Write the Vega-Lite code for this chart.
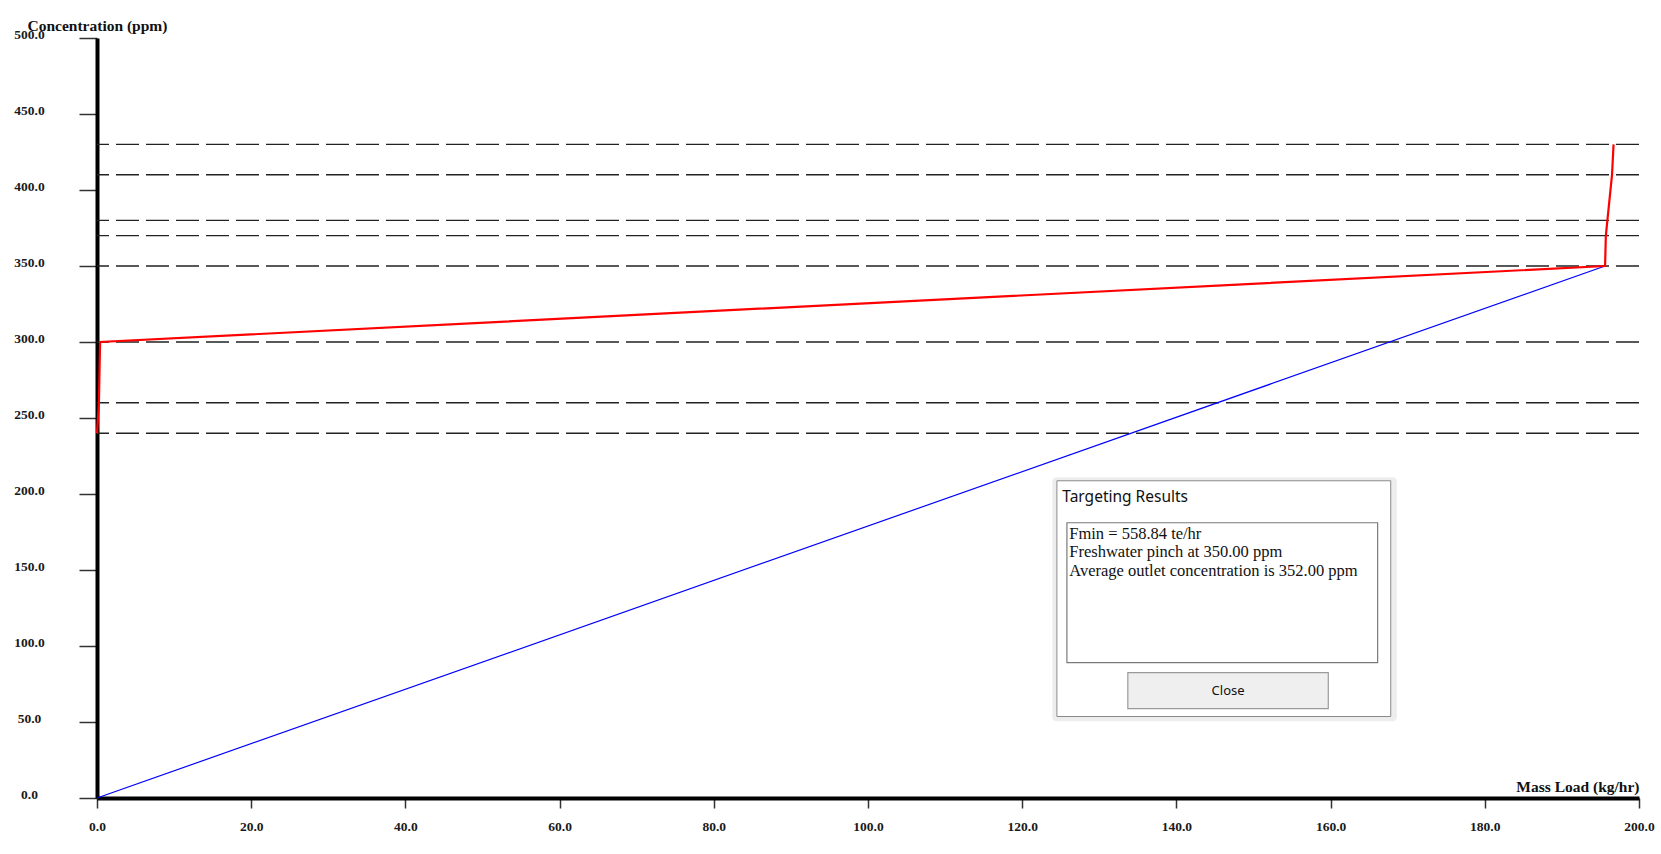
{
  "$schema": "https://vega.github.io/schema/vega-lite/v6.json",
  "width": 1542,
  "height": 760,
  "autosize": "none",
  "padding": {"left": 97, "top": 38, "right": 22, "bottom": 56},
  "background": "white",
  "config": {
    "view": {"stroke": null},
    "axis": {
      "grid": false,
      "domainColor": "black",
      "domainWidth": 4,
      "tickColor": "#333333",
      "tickWidth": 1.5,
      "labelFont": "Liberation Serif",
      "labelFontWeight": "bold",
      "labelFontSize": 13.5,
      "labelColor": "#1a1a1a",
      "labelFlush": false,
      "labelOverlap": false,
      "titleFont": "Liberation Serif",
      "titleFontWeight": "bold",
      "titleFontSize": 15.5,
      "titleColor": "#111111"
    },
    "axisX": {
      "tickSize": 10,
      "labelPadding": 11,
      "titleX": 1542,
      "titleY": -12,
      "titleAlign": "right",
      "titleBaseline": "middle"
    },
    "axisY": {
      "tickSize": 18,
      "labelAlign": "center",
      "labelBaseline": "middle",
      "labelPadding": 50,
      "labelOffset": -4,
      "titleAngle": 0,
      "titleX": -70,
      "titleY": -13,
      "titleAlign": "left",
      "titleBaseline": "middle"
    }
  },
  "datasets": {
    "levels": [
      {"ppm": 240}, {"ppm": 260}, {"ppm": 300}, {"ppm": 350},
      {"ppm": 370}, {"ppm": 380}, {"ppm": 410}, {"ppm": 430}
    ],
    "limiting": [
      {"i": 1, "load": 0, "ppm": 240},
      {"i": 2, "load": 0.25, "ppm": 260},
      {"i": 3, "load": 0.4, "ppm": 300},
      {"i": 4, "load": 195.6, "ppm": 350},
      {"i": 5, "load": 195.7, "ppm": 370},
      {"i": 6, "load": 195.9, "ppm": 380},
      {"i": 7, "load": 196.5, "ppm": 410},
      {"i": 8, "load": 196.7, "ppm": 430}
    ],
    "supply": [
      {"i": 1, "load": 0, "ppm": 0},
      {"i": 2, "load": 195.6, "ppm": 350}
    ],
    "panel": [
      {"part": "shadow", "load": 123.9, "load2": 168.6, "ppm": 211, "ppm2": 50.5},
      {"part": "dialog", "load": 124.5, "load2": 167.8, "ppm": 208.7, "ppm2": 53.6},
      {"part": "textbox", "load": 125.8, "load2": 166.1, "ppm": 181.1, "ppm2": 89.1},
      {"part": "button", "load": 133.7, "load2": 159.7, "ppm": 82.5, "ppm2": 58.8}
    ],
    "notes": [
      {"part": "title", "load": 125.2, "ppm": 198.2, "text": "Targeting Results"},
      {"part": "body", "load": 126.1, "ppm": 173.5, "text": "Fmin = 558.84 te/hr"},
      {"part": "body", "load": 126.1, "ppm": 161.7, "text": "Freshwater pinch at 350.00 ppm"},
      {"part": "body", "load": 126.1, "ppm": 149.2, "text": "Average outlet concentration is 352.00 ppm"},
      {"part": "button", "load": 146.7, "ppm": 70.7, "text": "Close"}
    ]
  },
  "layer": [
    {
      "data": {"name": "levels"},
      "mark": {"type": "rule", "color": "#222222", "strokeWidth": 1.4, "strokeDash": [23, 7]},
      "encoding": {
        "y": {
          "field": "ppm",
          "type": "quantitative",
          "title": "Concentration (ppm)",
          "scale": {"domain": [0, 500], "nice": false, "zero": true},
          "axis": {"values": [0, 50, 100, 150, 200, 250, 300, 350, 400, 450, 500], "format": ".1f"}
        }
      }
    },
    {
      "data": {"name": "supply"},
      "mark": {"type": "line", "color": "#0000ff", "strokeWidth": 1.2},
      "encoding": {
        "x": {
          "field": "load",
          "type": "quantitative",
          "title": "Mass Load (kg/hr)",
          "scale": {"domain": [0, 200], "nice": false},
          "axis": {"values": [0, 20, 40, 60, 80, 100, 120, 140, 160, 180, 200], "format": ".1f"}
        },
        "y": {"field": "ppm", "type": "quantitative", "title": "Concentration (ppm)"},
        "order": {"field": "i"}
      }
    },
    {
      "data": {"name": "limiting"},
      "mark": {"type": "line", "color": "#ff0000", "strokeWidth": 2.2},
      "encoding": {
        "x": {"field": "load", "type": "quantitative", "title": "Mass Load (kg/hr)"},
        "y": {"field": "ppm", "type": "quantitative", "title": "Concentration (ppm)"},
        "order": {"field": "i"}
      }
    },
    {
      "data": {"name": "panel"},
      "transform": [{"filter": "datum.part === 'shadow'"}],
      "mark": {"type": "rect", "fill": "#000000", "opacity": 0.07, "cornerRadius": 4},
      "encoding": {
        "x": {"field": "load", "type": "quantitative", "title": "Mass Load (kg/hr)"},
        "x2": {"field": "load2"},
        "y": {"field": "ppm", "type": "quantitative", "title": "Concentration (ppm)"},
        "y2": {"field": "ppm2"}
      }
    },
    {
      "data": {"name": "panel"},
      "transform": [{"filter": "datum.part === 'dialog'"}],
      "mark": {"type": "rect", "fill": "white", "stroke": "#8a8a8a", "strokeWidth": 1},
      "encoding": {
        "x": {"field": "load", "type": "quantitative", "title": "Mass Load (kg/hr)"},
        "x2": {"field": "load2"},
        "y": {"field": "ppm", "type": "quantitative", "title": "Concentration (ppm)"},
        "y2": {"field": "ppm2"}
      }
    },
    {
      "data": {"name": "panel"},
      "transform": [{"filter": "datum.part === 'textbox'"}],
      "mark": {"type": "rect", "fill": "white", "stroke": "#7a7a7a", "strokeWidth": 1.2},
      "encoding": {
        "x": {"field": "load", "type": "quantitative", "title": "Mass Load (kg/hr)"},
        "x2": {"field": "load2"},
        "y": {"field": "ppm", "type": "quantitative", "title": "Concentration (ppm)"},
        "y2": {"field": "ppm2"}
      }
    },
    {
      "data": {"name": "panel"},
      "transform": [{"filter": "datum.part === 'button'"}],
      "mark": {"type": "rect", "fill": "#efefef", "stroke": "#9a9a9a", "strokeWidth": 1.2},
      "encoding": {
        "x": {"field": "load", "type": "quantitative", "title": "Mass Load (kg/hr)"},
        "x2": {"field": "load2"},
        "y": {"field": "ppm", "type": "quantitative", "title": "Concentration (ppm)"},
        "y2": {"field": "ppm2"}
      }
    },
    {
      "data": {"name": "notes"},
      "transform": [{"filter": "datum.part === 'title'"}],
      "mark": {"type": "text", "align": "left", "baseline": "middle", "font": "Noto Sans", "fontSize": 15.5, "color": "#111111"},
      "encoding": {
        "x": {"field": "load", "type": "quantitative", "title": "Mass Load (kg/hr)"},
        "y": {"field": "ppm", "type": "quantitative", "title": "Concentration (ppm)"},
        "text": {"field": "text"}
      }
    },
    {
      "data": {"name": "notes"},
      "transform": [{"filter": "datum.part === 'body'"}],
      "mark": {"type": "text", "align": "left", "baseline": "middle", "font": "Liberation Serif", "fontSize": 16.5, "color": "#111111"},
      "encoding": {
        "x": {"field": "load", "type": "quantitative", "title": "Mass Load (kg/hr)"},
        "y": {"field": "ppm", "type": "quantitative", "title": "Concentration (ppm)"},
        "text": {"field": "text"}
      }
    },
    {
      "data": {"name": "notes"},
      "transform": [{"filter": "datum.part === 'button'"}],
      "mark": {"type": "text", "align": "center", "baseline": "middle", "font": "Noto Sans", "fontSize": 13, "color": "#111111"},
      "encoding": {
        "x": {"field": "load", "type": "quantitative", "title": "Mass Load (kg/hr)"},
        "y": {"field": "ppm", "type": "quantitative", "title": "Concentration (ppm)"},
        "text": {"field": "text"}
      }
    }
  ]
}
